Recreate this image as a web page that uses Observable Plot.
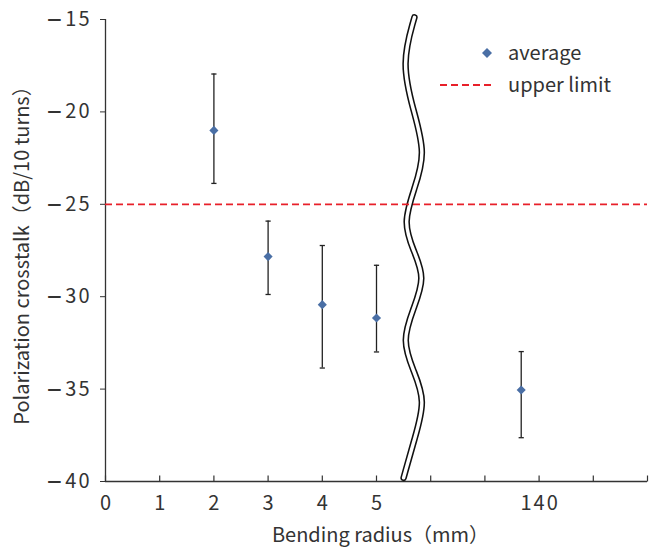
<!DOCTYPE html>
<html><head><meta charset="utf-8">
<script src="https://cdn.jsdelivr.net/npm/d3@7"></script>
<script src="https://cdn.jsdelivr.net/npm/@observablehq/plot@0.6"></script>
<style>
@font-face{font-family:"WideMinus";src:local("DejaVu Sans");unicode-range:U+2212;}
body{margin:0;background:#fff;font-family:"Noto Sans CJK JP",sans-serif;}
#wrap{position:relative;width:657px;height:547px;}
.lg{position:absolute;font-size:20px;color:#333;line-height:1;white-space:nowrap;}
g[aria-label="y-axis tick label"] text, g[aria-label="x-axis tick label"] text{letter-spacing:2px;}
</style></head><body><div id="wrap"></div>
<script>
// data
const radiusPos = [2, 3, 4, 5, 7.67];
const radiusLabel = ["2", "3", "4", "5", "140"];
const average = [-21.0, -27.83, -30.43, -31.15, -35.05];
const errHigh = [-17.95, -25.91, -27.23, -28.30, -32.97];
const errLow = [-23.87, -29.88, -33.86, -32.99, -37.63];
const upperLimit = -25;
const xTicks = [0, 1, 2, 3, 4, 5, 6, 7, 8, 9, 10];
const xTickText = ["0", "1", "2", "3", "4", "5", "", "", "140", "", ""];
const yTicks = [-40, -35, -30, -25, -20, -15];
// axis-break wave (decoration), extremes and crossings
const waveX = [5.70, 5.46, 5.68, 5.91, 5.70, 5.49, 5.68, 5.90, 5.68, 5.47, 5.68, 5.91, 5.70, 5.50];
const waveY = [-14.88, -17.37, -19.92, -22.24, -24.15, -25.98, -27.50, -28.96, -30.65, -32.37, -34.00, -35.62, -37.70, -39.80];

const pts = radiusPos.map((x, i) => ({x, avg: average[i], hi: errHigh[i], lo: errLow[i], label: radiusLabel[i]}));
const wave = waveX.map((x, i) => ({x, y: waveY[i]}));
const capSymbol = {draw(ctx) { ctx.moveTo(-2.6, 0); ctx.lineTo(2.6, 0); }};
const tickSymbol = {draw(ctx) { ctx.moveTo(0, 0); ctx.lineTo(0, -6); }};
const ink = "#333";

const chart = Plot.plot({
  width: 657, height: 547,
  marginLeft: 105, marginRight: 10, marginTop: 19, marginBottom: 66,
  style: {fontFamily: "WideMinus, 'Noto Sans CJK JP', sans-serif", fontSize: "20px", color: ink, background: "#fff"},
  x: {type: "linear", domain: [0, 10]},
  y: {type: "linear", domain: [-40, -15]},
  marks: [
    Plot.axisY({ticks: yTicks, tickSize: 5, tickPadding: 9, stroke: ink, fill: ink, label: null,
      tickFormat: d => "\u2212" + Math.abs(d), fontSize: 20}),
    Plot.axisX({ticks: xTicks, tickSize: 0, tickPadding: 14, fill: ink, label: null, dx: 1,
      tickFormat: d => xTickText[xTicks.indexOf(d)], fontSize: 20}),
    Plot.dot(xTicks, {x: d => d, y: () => -40, symbol: tickSymbol, stroke: ink, strokeWidth: 1.2, fill: "none"}),
    Plot.ruleX([0], {stroke: ink, strokeWidth: 1.3}),
    Plot.ruleY([-40], {stroke: ink, strokeWidth: 1.3}),
    Plot.line(wave, {x: "x", y: "y", curve: "basis", stroke: "#111", strokeWidth: 6.5}),
    Plot.line(wave, {x: "x", y: "y", curve: "basis", stroke: "#fff", strokeWidth: 3.4}),
    Plot.ruleY([upperLimit], {stroke: "#e8202a", strokeWidth: 1.8, strokeDasharray: "7,4"}),
    Plot.ruleX(pts, {x: "x", y1: "lo", y2: "hi", stroke: "#222", strokeWidth: 1.3}),
    Plot.dot(pts, {x: "x", y: "hi", symbol: capSymbol, stroke: "#222", strokeWidth: 1.3, fill: "none"}),
    Plot.dot(pts, {x: "x", y: "lo", symbol: capSymbol, stroke: "#222", strokeWidth: 1.3, fill: "none"}),
    Plot.dot(pts, {x: "x", y: "avg", symbol: "diamond2", r: 4.1, fill: "#4a6fa5", stroke: "none"}),
    Plot.text(["Polarization crosstalk（dB/10 turns）"], {frameAnchor: "left", dx: -83, rotate: -90,
      textAnchor: "middle", lineAnchor: "middle", fill: ink, fontSize: 20}),
    Plot.text(["Bending radius（mm）"], {frameAnchor: "bottom", dy: 54, dx: 4, textAnchor: "middle",
      lineAnchor: "middle", fill: ink, fontSize: 20})
  ]
});
const wrap = document.getElementById("wrap");
wrap.appendChild(chart);

// legend overlay
const legend = document.createElement("div");
legend.innerHTML = `
<svg style="position:absolute;left:0;top:0" width="657" height="120">
  <path d="M487,48 L492,53 L487,58 L482,53 Z" fill="#4a6fa5"/>
  <line x1="440" x2="494" y1="85" y2="85" stroke="#e8202a" stroke-width="1.8" stroke-dasharray="7,4"/>
</svg>
<div class="lg" style="left:508px;top:42px">average</div>
<div class="lg" style="left:508px;top:74px">upper limit</div>`;
wrap.appendChild(legend);
</script></body></html>
